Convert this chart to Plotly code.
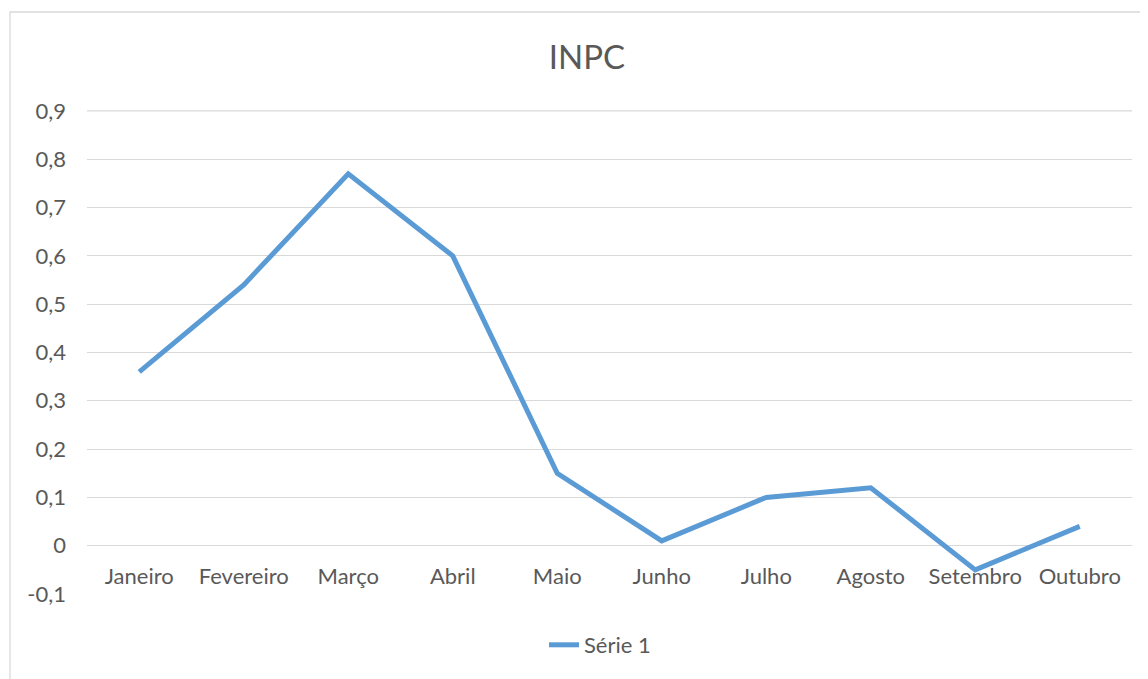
import plotly.graph_objects as go

months = ["Janeiro", "Fevereiro", "Março", "Abril", "Maio", "Junho",
          "Julho", "Agosto", "Setembro", "Outubro"]
inpc = [0.36, 0.54, 0.77, 0.60, 0.15, 0.01, 0.10, 0.12, -0.05, 0.04]
series_name = "Série 1"
title_text = "INPC"
y_tickvals = [-0.1, 0, 0.1, 0.2, 0.3, 0.4, 0.5, 0.6, 0.7, 0.8, 0.9]
y_ticktext = ["-0,1", "0", "0,1", "0,2", "0,3", "0,4", "0,5", "0,6", "0,7", "0,8", "0,9"]

OFF = 8  # page body margin
W, H = 1148 - OFF, 679 - OFF
L, R, T, B = 87 - OFF, 16, 110 - OFF, 85
ymin, ymax = -0.1, 0.902
plot_w = W - L - R
plot_h = H - T - B

FONT = "Lato"
GRAY = "#595959"
GRID = "#d9d9d9"
FS = 22

fig = go.Figure()
fig.add_trace(go.Scatter(
    x=months, y=inpc, mode="lines", name=series_name,
    line=dict(color="#5b9bd5", width=5),
    showlegend=True,
))

shapes = [dict(type="rect", xref="paper", yref="paper",
               x0=(10 - 87) / plot_w, x1=(1148 + 20 - 87) / plot_w,
               y0=-(679 + 20 - 594) / plot_h, y1=1 + (110 - 12) / plot_h,
               line=dict(color=GRID, width=1.3), fillcolor="rgba(0,0,0,0)",
               layer="below"),
          # top gridline (plotly drops the gridline sitting on the plot edge)
          dict(type="line", xref="paper", yref="y", x0=0, x1=1,
               y0=max(y_tickvals), y1=max(y_tickvals),
               line=dict(color=GRID, width=1.3), layer="below")]

fig.update_layout(
    width=W, height=H,
    margin=dict(l=L, r=R, t=T, b=B, pad=0, autoexpand=False),
    paper_bgcolor="white", plot_bgcolor="white",
    font=dict(family=FONT, size=FS, color=GRAY),
    title=dict(text=title_text, x=(587 - OFF) / W, xanchor="center",
               y=1 - (57 - OFF) / H, yanchor="middle", yref="container",
               font=dict(family=FONT, size=33, color=GRAY)),
    xaxis=dict(type="category", range=[-0.5, len(months) - 0.5],
               showgrid=False, zeroline=False, showline=False,
               ticks="", anchor="free", automargin=False,
               position=(0 - ymin) / (ymax - ymin),
               tickfont=dict(family=FONT, size=FS, color=GRAY),
               ticklabelstandoff=15),
    yaxis=dict(range=[ymin, ymax], tickvals=y_tickvals, ticktext=y_ticktext,
               showgrid=True, gridcolor=GRID, gridwidth=1.3,
               zeroline=False, showline=False, ticks="", automargin=False,
               tickfont=dict(family=FONT, size=FS, color=GRAY),
               ticklabelstandoff=20),
    legend=dict(orientation="h", x=(600 - 87) / plot_w, xanchor="center",
                y=-(645 - 594) / plot_h, yanchor="middle",
                font=dict(family=FONT, size=FS, color=GRAY),
                bgcolor="rgba(0,0,0,0)"),
    shapes=shapes,
)

fig.write_html("out.html")
